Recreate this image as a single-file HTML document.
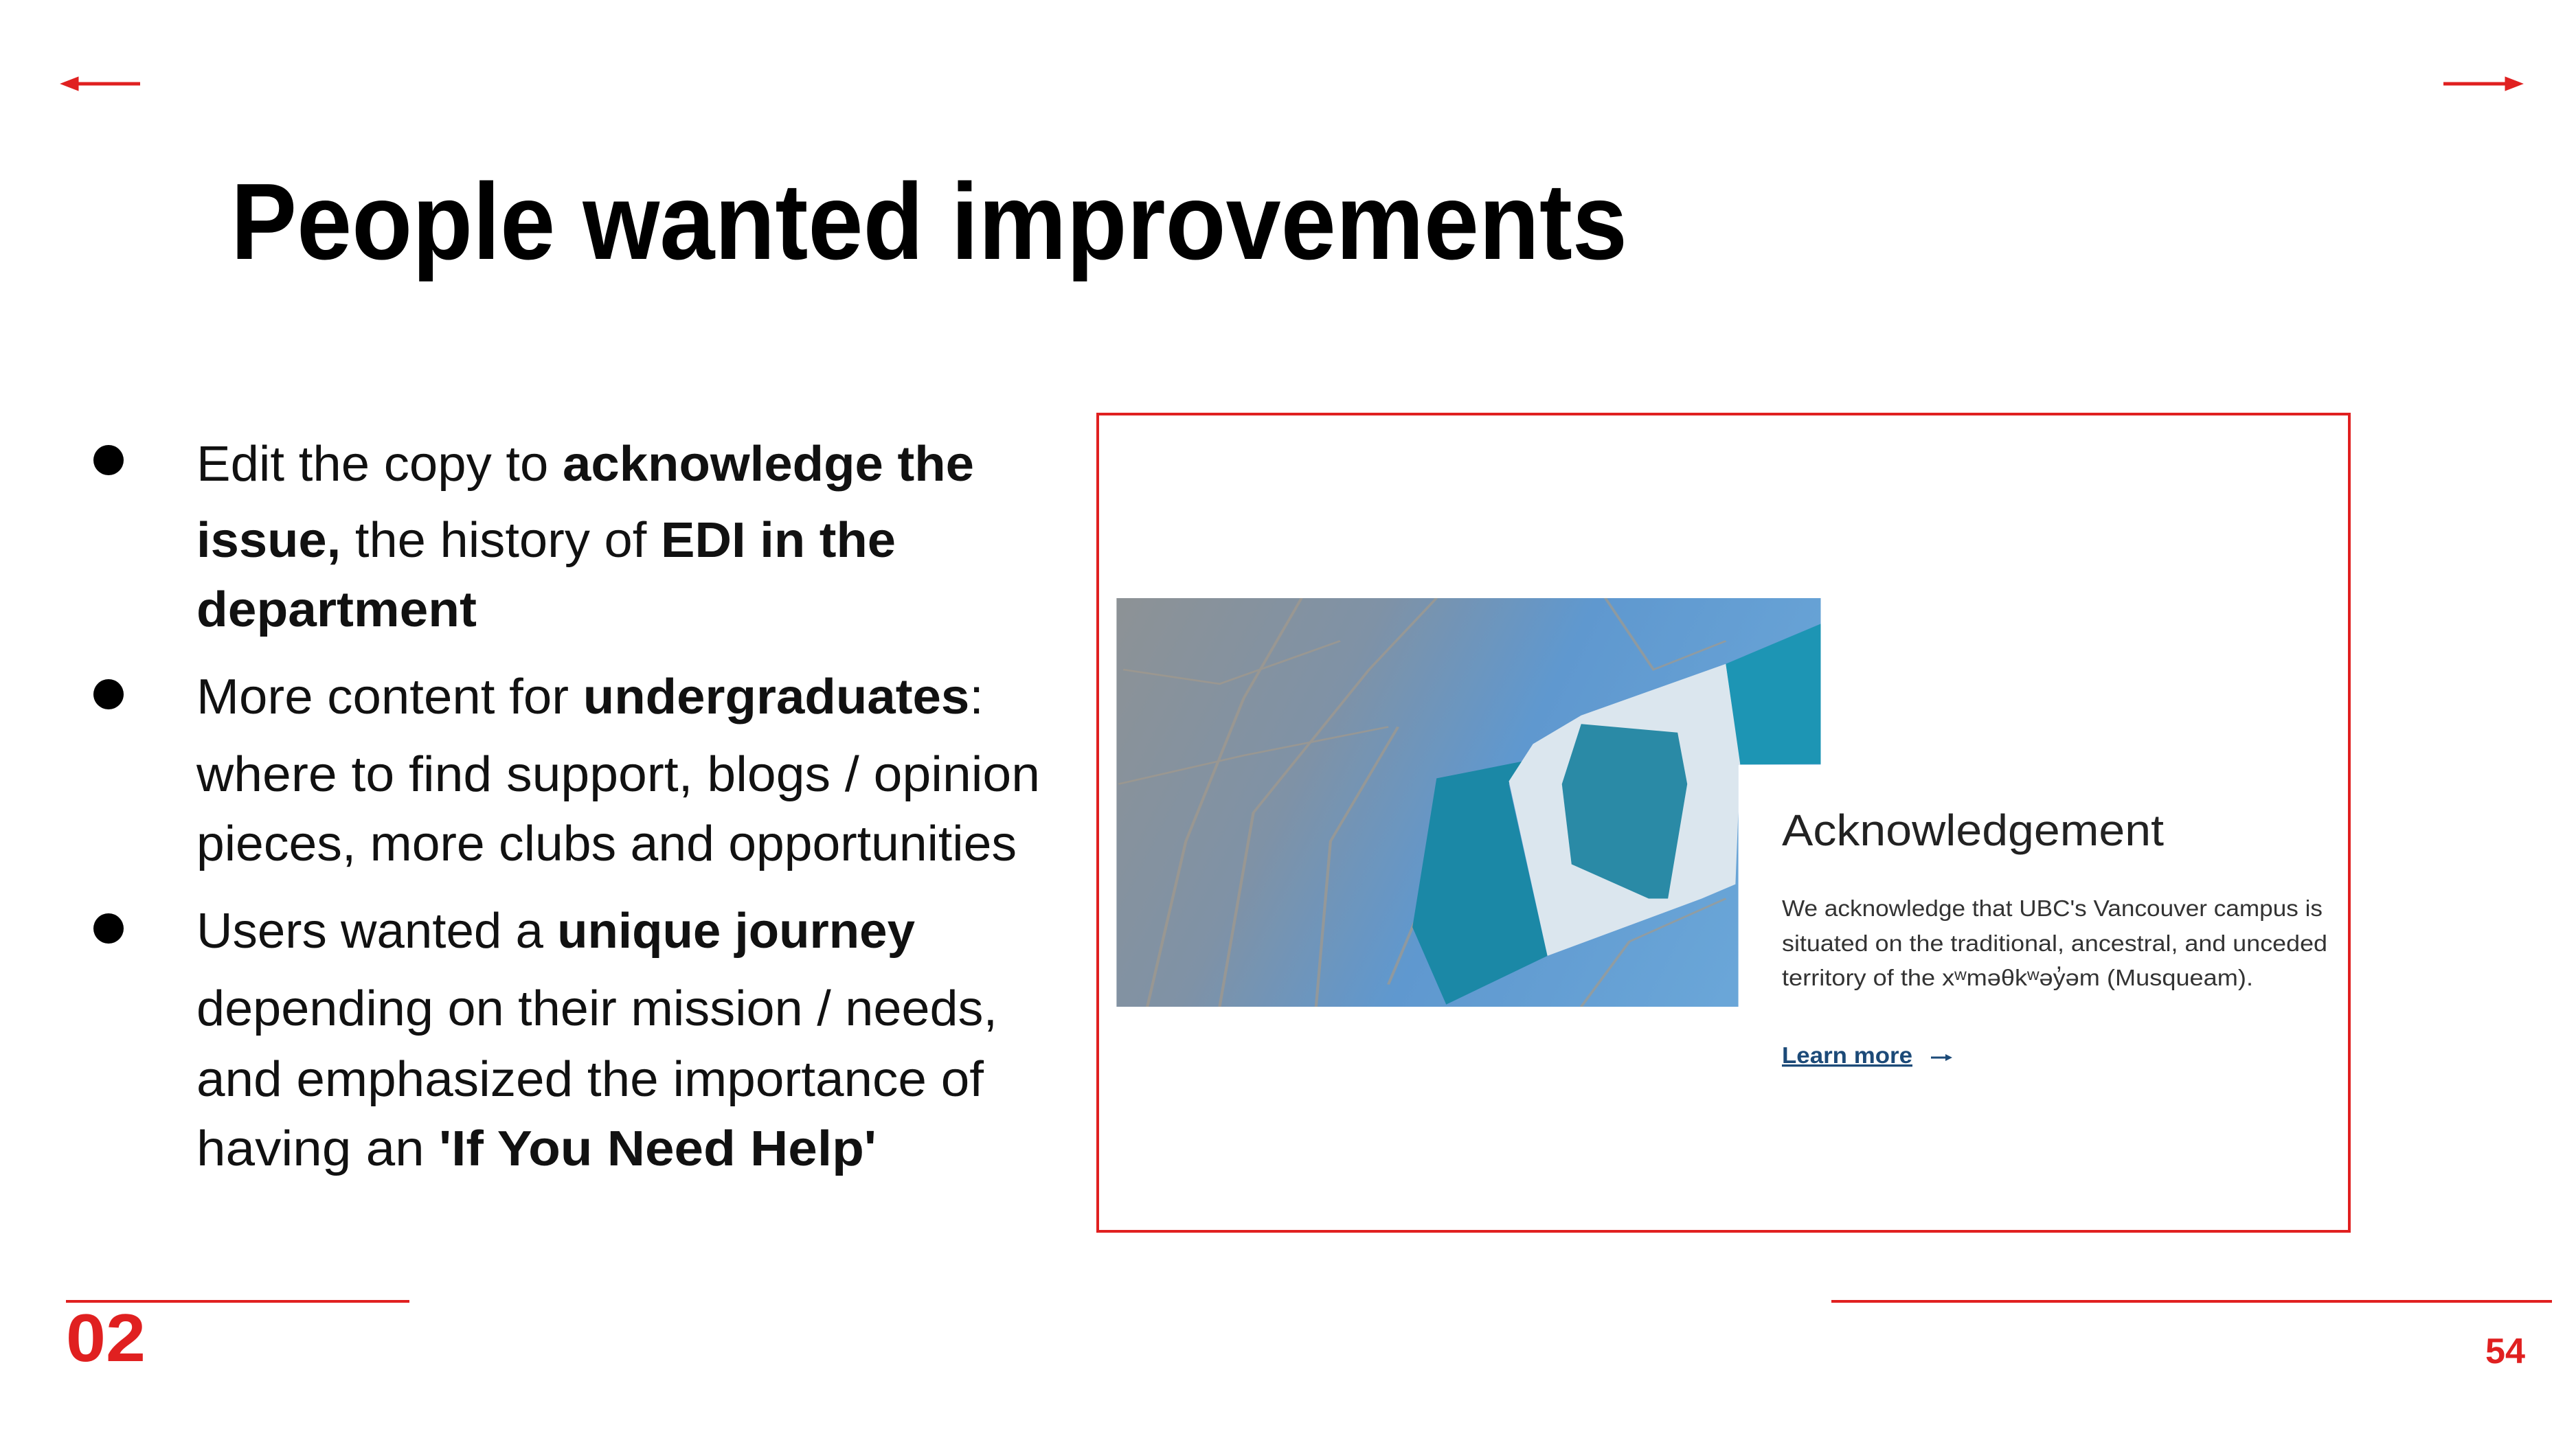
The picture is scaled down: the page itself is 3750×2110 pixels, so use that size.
<!DOCTYPE html>
<html><head><meta charset="utf-8"><style>
html,body{margin:0;padding:0;background:#fff}
svg{display:block}
text{font-family:"Liberation Sans",sans-serif}
</style></head><body>
<svg width="3750" height="2110" viewBox="0 0 3750 2110" xmlns="http://www.w3.org/2000/svg">
<rect width="3750" height="2110" fill="#fff"/>
<g stroke="#e02020" stroke-width="5" fill="#e02020">
<line x1="104" y1="122" x2="204" y2="122"/><polygon points="94,122 112,115 112,129"/></g>
<g stroke="#e02020" stroke-width="5" fill="#e02020">
<line x1="3557" y1="122" x2="3655" y2="122"/><polygon points="3667,122 3649,115 3649,129"/></g>
<text x="336" y="377" font-size="158" font-weight="bold" fill="#000" textLength="2033" lengthAdjust="spacingAndGlyphs">People wanted improvements</text>
<g font-size="72" fill="#111">
<circle cx="158" cy="670" r="22" fill="#000"/>
<circle cx="158" cy="1011" r="22" fill="#000"/>
<circle cx="158" cy="1352" r="22" fill="#000"/>
<text x="286" y="700" textLength="1132" lengthAdjust="spacingAndGlyphs">Edit the copy to <tspan font-weight="bold">acknowledge the</tspan></text>
<text x="286" y="811" textLength="1018" lengthAdjust="spacingAndGlyphs"><tspan font-weight="bold">issue,</tspan> the history of <tspan font-weight="bold">EDI in the</tspan></text>
<text x="286" y="912" font-weight="bold" textLength="408" lengthAdjust="spacingAndGlyphs">department</text>
<text x="286" y="1039" textLength="1146" lengthAdjust="spacingAndGlyphs">More content for <tspan font-weight="bold">undergraduates</tspan>:</text>
<text x="286" y="1152" textLength="1228" lengthAdjust="spacingAndGlyphs">where to find support, blogs / opinion</text>
<text x="286" y="1253" textLength="1194" lengthAdjust="spacingAndGlyphs">pieces, more clubs and opportunities</text>
<text x="286" y="1380" textLength="1046" lengthAdjust="spacingAndGlyphs">Users wanted a <tspan font-weight="bold">unique journey</tspan></text>
<text x="286" y="1493" textLength="1166" lengthAdjust="spacingAndGlyphs">depending on their mission / needs,</text>
<text x="286" y="1596" textLength="1146" lengthAdjust="spacingAndGlyphs">and emphasized the importance of</text>
<text x="286" y="1697" textLength="990" lengthAdjust="spacingAndGlyphs">having an <tspan font-weight="bold">'If You Need Help'</tspan></text>
</g>
<rect x="1598" y="603" width="1822" height="1190" fill="none" stroke="#e02020" stroke-width="4"/>
<defs>
<clipPath id="pc"><path d="M36,50 H1497 V632 H1326 V1478 H36 Z"/></clipPath>
<linearGradient id="sky" x1="0" y1="0" x2="1" y2="0.3"><stop offset="0" stop-color="#8e9294"/><stop offset="0.35" stop-color="#7f92a6"/><stop offset="0.6" stop-color="#5f98cf"/><stop offset="1" stop-color="#6aa6d8"/></linearGradient>
</defs>
<g transform="translate(1600,850) scale(0.7018,0.4168)" clip-path="url(#pc)">
<rect x="0" y="0" width="1600" height="1600" fill="url(#sky)"/>
<g stroke="#a39a8c" stroke-width="6" fill="none" opacity="0.7">
<path d="M100,1478 L180,900 L300,400 L420,50"/><path d="M250,1478 L320,800 L560,300 L700,50"/>
<path d="M40,700 L300,600 L600,500"/><path d="M450,1478 L480,900 L620,500"/>
<path d="M50,300 L250,350 L500,200"/><path d="M600,1400 L700,1000 L800,700"/>
<path d="M1000,1478 L1100,1250 L1300,1100"/><path d="M1050,50 L1150,300 L1300,200"/>
</g>
<polygon points="700,680 880,620 850,700 930,1300 720,1470 650,1200" fill="#1b88a6"/>
<polygon points="850,690 900,560 1000,460 1300,280 1330,620 1320,1050 1250,1100 930,1300" fill="#dbe6ee"/>
<polygon points="1300,280 1497,140 1497,630 1330,632" fill="#1d95b4"/>
<polygon points="1000,490 1200,520 1220,700 1180,1100 1140,1100 980,980 960,700" fill="#2a8aa6"/>
</g>
<text x="2594" y="1231" font-size="64" fill="#222" textLength="556" lengthAdjust="spacingAndGlyphs">Acknowledgement</text>
<g font-size="33" fill="#333">
<text x="2594" y="1334" textLength="787" lengthAdjust="spacingAndGlyphs">We acknowledge that UBC's Vancouver campus is</text>
<text x="2594" y="1385" textLength="794" lengthAdjust="spacingAndGlyphs">situated on the traditional, ancestral, and unceded</text>
<text x="2594" y="1435" textLength="686" lengthAdjust="spacingAndGlyphs">territory of the xʷməθkʷəy̓əm (Musqueam).</text>
</g>
<g>
<text x="2594" y="1548" font-size="33" font-weight="bold" fill="#1c4a78" text-decoration="underline" textLength="190" lengthAdjust="spacingAndGlyphs">Learn more</text>
<line x1="2811" y1="1540" x2="2836" y2="1540" stroke="#1c4a78" stroke-width="3"/><polygon points="2842,1540 2832,1535 2832,1545" fill="#1c4a78"/>
</g>
<line x1="96" y1="1895" x2="596" y2="1895" stroke="#e02020" stroke-width="4"/>
<line x1="2666" y1="1895" x2="3715" y2="1895" stroke="#e02020" stroke-width="4"/>
<text x="96" y="1982" font-size="98" font-weight="bold" fill="#e02020" textLength="116" lengthAdjust="spacingAndGlyphs">02</text>
<text x="3618" y="1985" font-size="52" font-weight="bold" fill="#e02020" textLength="58" lengthAdjust="spacingAndGlyphs">54</text>
</svg>
</body></html>
